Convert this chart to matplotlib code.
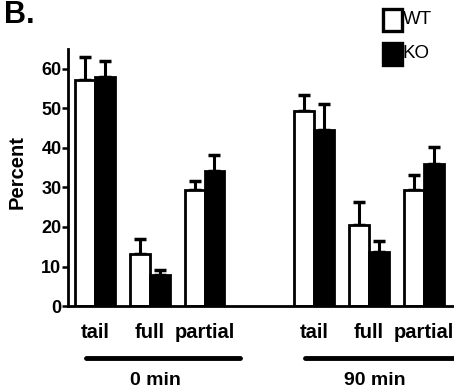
import numpy as np
import matplotlib
matplotlib.use('Agg')
import matplotlib.pyplot as plt
from matplotlib.patches import Rectangle

plt.rcParams['font.family'] = ['Liberation Sans', 'DejaVu Sans']
plt.rcParams['font.weight'] = 'bold'

categories = ['tail', 'full', 'partial']
groups = ['0 min', '90 min']
wt_0 = [57.0, 13.2, 29.4]
wt_0_err = [6.0, 3.8, 2.2]
ko_0 = [57.8, 7.9, 34.2]
ko_0_err = [4.0, 1.3, 3.9]
wt_90 = [49.4, 20.5, 29.4]
wt_90_err = [4.0, 5.8, 3.7]
ko_90 = [44.4, 13.8, 35.9]
ko_90_err = [6.7, 2.7, 4.4]
yticks = [0, 10, 20, 30, 40, 50, 60]

wt = wt_0 + wt_90
wt_err = wt_0_err + wt_90_err
ko = ko_0 + ko_90
ko_err = ko_0_err + ko_90_err
pos = np.array([0, 1, 2, 4, 5, 6])
w = 0.36

fig = plt.figure(figsize=(4.54, 3.9), dpi=100)
ax = fig.add_axes([0.15, 0.215, 0.85, 0.66])

ax.bar(pos - w / 2, wt, w, color='white', edgecolor='black', lw=2.0, zorder=2)
ax.bar(pos + w / 2, ko, w, color='black', edgecolor='black', lw=2.0, zorder=2)
ax.errorbar(pos - w / 2, wt, yerr=[np.zeros(6), wt_err], fmt='none', ecolor='black',
            elinewidth=2.2, capsize=4, capthick=2.5, zorder=1)
ax.errorbar(pos + w / 2, ko, yerr=[np.zeros(6), ko_err], fmt='none', ecolor='black',
            elinewidth=2.2, capsize=4, capthick=2.5, zorder=1)

ax.set_xlim(-0.49, 6.55)
ax.set_ylim(0, 65)
ax.set_yticks(yticks)
ax.set_yticklabels([str(t) for t in yticks], fontsize=13, fontweight='bold')
ax.set_xticks(pos)
ax.set_xticklabels(categories * 2, fontsize=14.5, fontweight='bold')
ax.tick_params(axis='x', length=0, pad=12)
ax.tick_params(axis='y', length=4.3, width=1.8, pad=0.5)
ax.set_ylabel('Percent', fontsize=14.5, fontweight='bold')
ax.yaxis.set_label_coords(-0.108, 0.52)
for s in ['top', 'right']:
    ax.spines[s].set_visible(False)
ax.spines['left'].set_linewidth(2)
ax.spines['bottom'].set_linewidth(2)

# group lines and labels
for i, g in enumerate(groups):
    x0 = 4 * i - 0.17
    x1 = 4 * i + 2.65
    ax.plot([x0, x1], [-13.1, -13.1], color='black', lw=3.5, solid_capstyle='round',
            clip_on=False)
    ax.text(4 * i + 1.1, -18.9, g, ha='center', va='center', fontsize=14,
            fontweight='bold')

# legend
fig.patches.append(Rectangle((0.843, 0.921), 0.042, 0.055, transform=fig.transFigure,
                             facecolor='white', edgecolor='black', lw=2.4))
fig.patches.append(Rectangle((0.843, 0.834), 0.042, 0.055, transform=fig.transFigure,
                             facecolor='black', edgecolor='black', lw=2.4))
fig.text(0.887, 0.949, 'WT', fontsize=13.5, fontweight='normal', va='center')
fig.text(0.887, 0.862, 'KO', fontsize=13.5, fontweight='normal', va='center')

fig.text(0.008, 0.942, 'B.', fontsize=22, fontweight='bold', va='baseline')

fig.savefig('out.png', dpi=100)
